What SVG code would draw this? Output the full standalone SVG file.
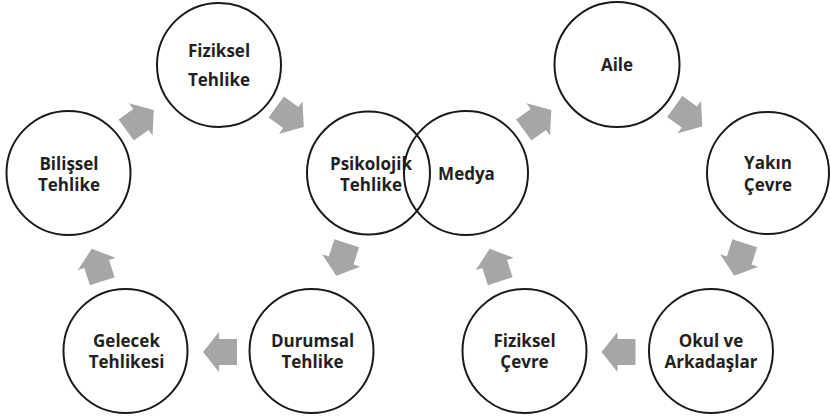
<svg xmlns="http://www.w3.org/2000/svg" width="830" height="419" viewBox="0 0 830 419">
<defs>
<style>
.n circle{fill:none;stroke:#1a1a1a;stroke-width:2}
.n text{font-family:"Open Sans","Liberation Sans",sans-serif;font-weight:bold;font-size:17px;fill:#231f20;text-anchor:middle}
.a{fill:#a6a6a6}
</style>
<polygon id="arr" points="-17,-13 1,-13 1,-20 17,0 1,20 1,13 -17,13"/>
</defs>
<rect width="830" height="419" fill="#fff"/>
<g id="connectors" class="a">
<use href="#arr" transform="translate(140,120) rotate(-36)"/>
<use href="#arr" transform="translate(290,117) rotate(36)"/>
<use href="#arr" transform="translate(341.5,259.5) rotate(108)"/>
<use href="#arr" transform="translate(220,352) rotate(180)"/>
<use href="#arr" transform="translate(97,265) rotate(-108)"/>
<use href="#arr" transform="translate(537.5,120) rotate(-36)"/>
<use href="#arr" transform="translate(688.5,116.5) rotate(36)"/>
<use href="#arr" transform="translate(739.5,259.5) rotate(108)"/>
<use href="#arr" transform="translate(618.5,352) rotate(180)"/>
<use href="#arr" transform="translate(495,265) rotate(-108)"/>
</g>
<g id="fiziksel-tehlike" class="n"><circle cx="219" cy="65" r="62"/><text x="219" y="57">Fiziksel</text><text x="219" y="86">Tehlike</text></g>
<g id="bilissel-tehlike" class="n"><circle cx="68.5" cy="173" r="62"/><text x="69" y="170">Bilişsel</text><text x="69" y="191">Tehlike</text></g>
<g id="psikolojik-tehlike" class="n"><circle cx="368.5" cy="173" r="61.5"/><text x="371" y="170">Psikolojik</text><text x="371" y="191">Tehlike</text></g>
<g id="medya" class="n"><circle cx="466" cy="173" r="62"/><text x="466.5" y="180">Medya</text></g>
<g id="aile" class="n"><circle cx="617" cy="64.5" r="62.5"/><text x="617" y="71">Aile</text></g>
<g id="yakin-cevre" class="n"><circle cx="768" cy="173" r="61"/><text x="768" y="169">Yakın</text><text x="768" y="191">Çevre</text></g>
<g id="gelecek-tehlikesi" class="n"><circle cx="125.5" cy="351" r="62"/><text x="126.5" y="347">Gelecek</text><text x="126.5" y="368">Tehlikesi</text></g>
<g id="durumsal-tehlike" class="n"><circle cx="311.5" cy="351" r="62"/><text x="312.5" y="347">Durumsal</text><text x="312.5" y="368">Tehlike</text></g>
<g id="fiziksel-cevre" class="n"><circle cx="524.5" cy="351" r="62"/><text x="524.5" y="347">Fiziksel</text><text x="524.5" y="368">Çevre</text></g>
<g id="okul-arkadaslar" class="n"><circle cx="711" cy="351" r="62"/><text x="711" y="347">Okul ve</text><text x="711" y="368">Arkadaşlar</text></g>
</svg>
